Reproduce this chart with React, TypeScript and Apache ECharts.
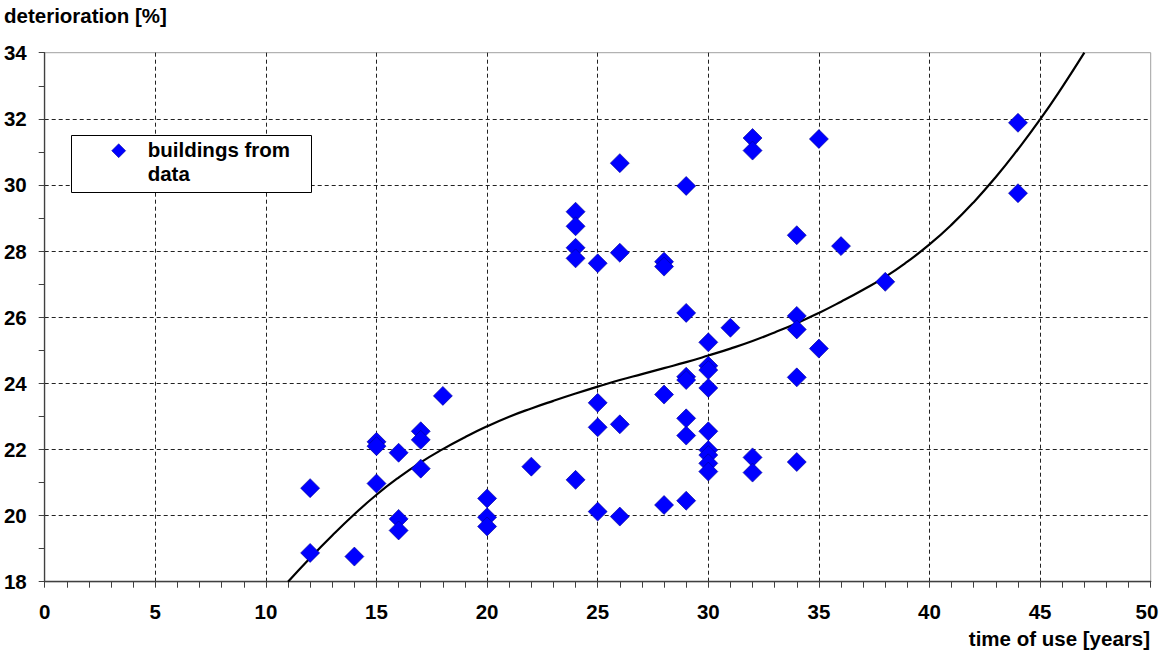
import React, { useEffect, useRef } from "react";
import * as echarts from "echarts";

const buildingYears = [12, 12, 14, 15, 15, 15, 16, 16, 16, 17, 17, 17, 18, 20, 20, 20, 22, 24, 24, 24, 24, 24, 25, 25, 25, 25, 26, 26, 26, 26, 28, 28, 28, 28, 29, 29, 29, 29, 29, 29, 29, 30, 30, 30, 30, 30, 30, 30, 30, 30, 31, 32, 32, 32, 32, 34, 34, 34, 34, 34, 35, 35, 36, 38, 44, 44];
const buildingDeterioration = [20.83, 18.87, 18.76, 22.23, 22.1, 20.97, 21.9, 19.9, 19.55, 22.55, 22.29, 21.42, 23.62, 20.52, 19.95, 19.67, 21.48, 29.19, 28.75, 28.1, 27.78, 21.08, 27.63, 23.41, 22.67, 20.12, 30.66, 27.95, 22.76, 19.97, 27.68, 27.53, 23.66, 20.32, 29.97, 26.13, 24.2, 24.1, 22.94, 22.42, 20.45, 25.24, 24.53, 24.4, 23.86, 22.55, 21.98, 21.83, 21.58, 21.33, 25.68, 31.42, 31.04, 21.76, 21.3, 28.48, 26.04, 25.63, 24.18, 21.62, 31.39, 25.05, 28.15, 27.07, 31.88, 29.75];

const trendYears = [11, 12, 13, 14, 15, 16, 17, 18, 19, 20, 21, 22, 23, 24, 25, 26, 27, 28, 29, 30, 31, 32, 33, 34, 35, 36, 37, 38, 39, 40, 41, 42, 43, 44, 45, 46, 47];
const trendValues = [18.0, 18.72, 19.4, 20.04, 20.63, 21.15, 21.61, 22.01, 22.37, 22.7, 22.99, 23.24, 23.47, 23.69, 23.9, 24.1, 24.28, 24.46, 24.64, 24.84, 25.05, 25.28, 25.54, 25.82, 26.13, 26.47, 26.83, 27.22, 27.68, 28.2, 28.8, 29.48, 30.24, 31.08, 31.98, 32.96, 34.0];

const xMax = 50;
const xTitle = "time of use [years]";
const yTitle = "deterioration [%]";
const legendLabel = "buildings from\ndata";

const FONT = '"Liberation Sans", Arial, sans-serif';

export default function App() {
  const ref = useRef<HTMLDivElement>(null);
  useEffect(() => {
    if (!ref.current) return;
    const chart = echarts.init(ref.current, null, { renderer: "svg" });
    const axisColor = "#404040";
    const labelStyle = { color: "#000", fontSize: 20.5, fontWeight: "bold" as const, fontFamily: FONT };
    chart.setOption({
      animation: false,
      backgroundColor: "#fff",
      textStyle: { fontFamily: FONT },
      grid: {
        left: 44.7, right: 9.3, top: 52.7, bottom: 73.3,
        outerBoundsMode: "none", containLabel: false,
        show: true, borderColor: "#a0a0a0", borderWidth: 1, backgroundColor: "#fff",
      },
      xAxis: {
        type: "value", min: 0, max: xMax, interval: 5,
        axisLine: { show: true, lineStyle: { color: axisColor, width: 1.3 } },
        axisTick: { show: true, length: 6, lineStyle: { color: axisColor } },
        minorTick: { show: true, splitNumber: 5, length: 6, lineStyle: { color: axisColor } },
        axisLabel: { ...labelStyle, margin: 19, showMaxLabel: false },
        splitLine: { show: true, showMinLine: false, showMaxLine: false, lineStyle: { color: "#222", type: [4, 3], width: 1 } },
      },
      yAxis: {
        type: "value", min: 18, max: 34, interval: 2,
        axisLine: { show: true, lineStyle: { color: axisColor, width: 1.3 } },
        axisTick: { show: true, length: 6, lineStyle: { color: axisColor } },
        minorTick: { show: true, splitNumber: 2, length: 6, lineStyle: { color: axisColor } },
        axisLabel: { ...labelStyle, margin: 18 },
        splitLine: { show: true, showMinLine: false, showMaxLine: false, lineStyle: { color: "#222", type: [4, 3], width: 1 } },
      },
      series: [
        {
          type: "line",
          name: "trend",
          data: trendYears.map((x, i) => [x, trendValues[i]]),
          smooth: true,
          showSymbol: false,
          symbol: "none",
          lineStyle: { color: "#000", width: 2.2 },
          z: 3,
        },
        {
          type: "scatter",
          name: "buildings from data",
          data: buildingYears.map((x, i) => [x, buildingDeterioration[i]]),
          symbol: "diamond",
          symbolSize: 19,
          itemStyle: { color: "#0000ff", borderColor: "#000090", borderWidth: 0.6, opacity: 1 },
          z: 4,
        },
      ],
      graphic: [
        {
          type: "text", x: 4, y: 15.5, z: 10,
          style: { text: yTitle, fill: "#000", fontSize: 20.5, fontWeight: "bold", fontFamily: FONT, align: "left", verticalAlign: "middle" },
        },
        {
          type: "text", x: 1147, y: 611.5, z: 10,
          style: { text: String(xMax), fill: "#000", fontSize: 20.5, fontWeight: "bold", fontFamily: FONT, align: "center", verticalAlign: "middle" },
        },
        {
          type: "text", x: 1150, y: 638, z: 10,
          style: { text: xTitle, fill: "#000", fontSize: 20.5, fontWeight: "bold", fontFamily: FONT, align: "right", verticalAlign: "middle" },
        },
        {
          type: "group", z: 20,
          children: [
            { type: "rect", z: 20, shape: { x: 71.5, y: 135.5, width: 240, height: 57 }, style: { fill: "#fff", stroke: "#000", lineWidth: 1 } },
            { type: "polygon", z: 21, shape: { points: [[118.7, 143.7], [125.7, 150.7], [118.7, 157.7], [111.7, 150.7]] }, style: { fill: "#0000ff", stroke: "#000090", lineWidth: 0.5 } },
            { type: "text", z: 21, x: 147.7, y: 161.7, style: { text: legendLabel, fill: "#000", fontSize: 20.5, fontWeight: "bold", fontFamily: FONT, lineHeight: 24.3, align: "left", verticalAlign: "middle" } },
          ],
        },
      ],
    });
    return () => chart.dispose();
  }, []);
  return <div ref={ref} style={{ position: "fixed", left: 0, top: 0, width: 1160, height: 655 }} />;
}
